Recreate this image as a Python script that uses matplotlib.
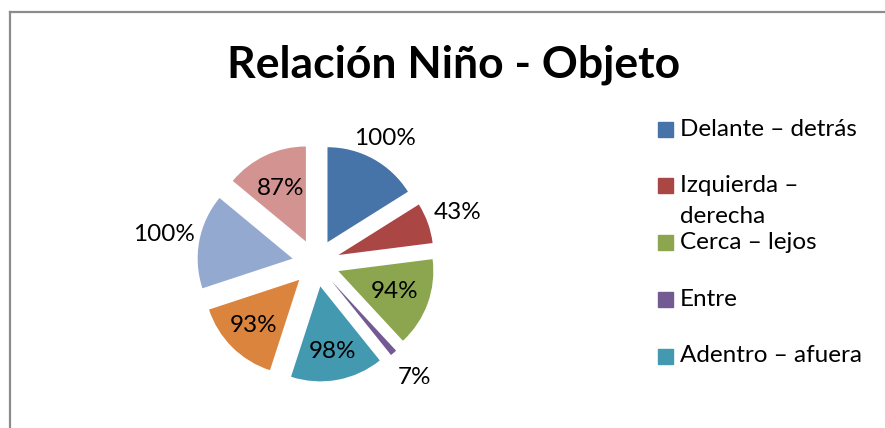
import numpy as np
import matplotlib.pyplot as plt
from matplotlib.patches import Rectangle
from matplotlib.lines import Line2D

# Valores de cada porción (porcentaje de logro)
values = [100, 43, 94, 7, 98, 93, 100, 87]
# Solo caben 5 entradas en la leyenda del original
categories = ['Delante – detrás', 'Izquierda –\nderecha', 'Cerca – lejos',
              'Entre', 'Adentro – afuera']
title = 'Relación Niño - Objeto'

colors = ['#4673A8', '#AA4644', '#8BA64F', '#745A92',
          '#4299B0', '#DB843D', '#93A9D0', '#D29391']
# distancia de cada etiqueta desde el centro de su porción (en radios)
label_dist = [1.25, 1.33, 0.63, 1.34, 0.70, 0.68, 1.38, 0.62]

plt.rcParams['font.family'] = ['Lato', 'DejaVu Sans']

W, H = 885, 428
fig = plt.figure(figsize=(W / 100, H / 100), dpi=100)

# marco gris del gráfico (solo se ven arriba e izquierda)
fig.add_artist(Line2D([10 / W, 1], [1 - 12 / H, 1 - 12 / H], color='#8C8C8C', lw=1.6))
fig.add_artist(Line2D([10 / W, 10 / W], [0, 1 - 12 / H], color='#8C8C8C', lw=1.6))

# pie: centro en (316, 263) px, radio 95 px
cx, cy, R = 316, H - 263, 95
ax = fig.add_axes([(cx - 2 * R) / W, (cy - 1.6 * R) / H, 4 * R / W, 3.2 * R / H])
wedges, _ = ax.pie(values, colors=colors, startangle=90, counterclock=False,
                   explode=[0.25] * len(values), radius=1)
ax.set_xlim(-2, 2)
ax.set_ylim(-1.6, 1.6)
ax.set_aspect('auto')
ax.axis('off')

for w, v, d in zip(wedges, values, label_dist):
    ang = np.deg2rad((w.theta1 + w.theta2) / 2)
    x = w.center[0] + d * w.r * np.cos(ang)
    y = w.center[1] + d * w.r * np.sin(ang)
    ax.text(x, y, f'{v}%', ha='center', va='center', fontsize=17.5)

fig.text(454 / W, 1 - 65 / H, title, ha='center', va='center',
         fontsize=32, fontweight='bold')

# leyenda manual
for i, name in enumerate(categories):
    yc = 129 + 56.75 * i
    fig.add_artist(Rectangle((658 / W, 1 - (yc + 7.5) / H), 15 / W, 15 / H,
                             color=colors[i], transform=fig.transFigure))
    for k, line in enumerate(name.split('\n')):
        fig.text(680 / W, 1 - (yc + 31 * k) / H, line, ha='left',
                 va='center', fontsize=17.5)

fig.savefig('out.png', dpi=100)
